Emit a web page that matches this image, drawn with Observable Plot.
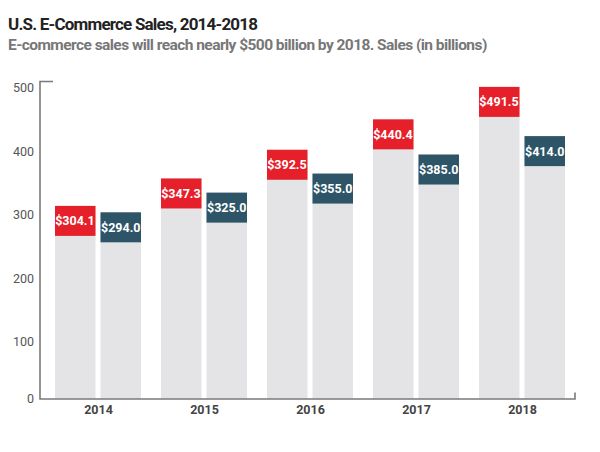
<!DOCTYPE html>
<html><head><meta charset="utf-8">
<script src="https://cdn.jsdelivr.net/npm/d3@7"></script>
<script src="https://cdn.jsdelivr.net/npm/@observablehq/plot@0.6"></script>
<style>
body{margin:0;background:#fff;font-family:Roboto,"Liberation Sans",sans-serif;}
#head{height:60px;position:relative;}
#t{position:absolute;left:8px;top:14px;font-weight:700;font-size:17px;line-height:20px;color:#222;letter-spacing:-0.8px;white-space:nowrap;}
#s{position:absolute;left:8px;top:35px;font-weight:700;font-size:15.5px;line-height:20px;color:#777;letter-spacing:-0.55px;white-space:nowrap;}
</style></head><body>
<div id="head"><div id="t">U.S. E-Commerce Sales, 2014-2018</div><div id="s">E-commerce sales will reach nearly $500 billion by 2018. Sales (in billions)</div></div>
<div id="chart"></div>
<script>
const years = ["2014", "2015", "2016", "2017", "2018"];
const seriesA = [304.1, 347.3, 392.5, 440.4, 491.5];
const seriesB = [294.0, 325.0, 355.0, 385.0, 414.0];
const yTicks = [0, 100, 200, 300, 400, 500];

const dataA = years.map((year, i) => ({year, v: seriesA[i]}));
const dataB = years.map((year, i) => ({year, v: seriesB[i]}));

const W = 600, H = 392, mt = 21.5, mb = 53, ml = 40, mr = 25;
const pxPerUnit = (H - mt - mb) / 500;
const boxU = 30 / pxPerUnit;
const inset = 45.5;
const red = "#e6202a", teal = "#2d5567", grey = "#e4e4e6";
const fmt = v => "$" + v.toFixed(1);

const axisFrame = (index, scales, values, dims) => {
  const l = dims.marginLeft, r = dims.width - dims.marginRight;
  const y0 = scales.y(0), y5 = scales.y(500);
  const p = d3.create("svg:path")
    .attr("d", `M${l + 13},${y5}H${l}V${y0}H${r}V${y0 - 6.5}`)
    .attr("fill", "none").attr("stroke", "#7a7a7a").attr("stroke-width", 1.6);
  return p.node();
};

const labelStyle = {letterSpacing: "-0.7px"};

const chart = Plot.plot({
  width: W, height: H,
  marginTop: mt, marginBottom: mb, marginLeft: ml, marginRight: mr,
  style: {fontFamily: "Roboto, sans-serif", background: "#fff"},
  x: {type: "band", domain: years, range: [53.3, 567.3], paddingInner: 0.19, paddingOuter: 0, axis: null},
  y: {domain: [0, 500], axis: null},
  marks: [
    Plot.barY(dataA, {x: "year", y: "v", fill: grey, insetRight: inset}),
    Plot.barY(dataB, {x: "year", y: "v", fill: grey, insetLeft: inset}),
    Plot.barY(dataA, {x: "year", y1: d => d.v - boxU, y2: "v", fill: red, insetRight: inset}),
    Plot.barY(dataB, {x: "year", y1: d => d.v - boxU, y2: "v", fill: teal, insetLeft: inset}),
    Plot.text(dataA, {x: "year", y: d => d.v - boxU / 2, text: d => fmt(d.v), dx: -23.6, fill: "white", fontWeight: "bold", fontSize: 12.5, style: labelStyle}),
    Plot.text(dataB, {x: "year", y: d => d.v - boxU / 2, text: d => fmt(d.v), dx: 22.2, fill: "white", fontWeight: "bold", fontSize: 12.5, style: labelStyle}),
    axisFrame,
    Plot.text(yTicks.filter(t => t > 0), {y: d => d, text: d => String(d), frameAnchor: "left", dx: -6.5, dy: 6, textAnchor: "end", fill: "#555", fontSize: 12.5}),
    Plot.text([0], {y: d => d, text: d => String(d), frameAnchor: "left", dx: -6.5, dy: -1, textAnchor: "end", fill: "#555", fontSize: 12.5}),
    Plot.text(years, {x: d => d, text: d => d, frameAnchor: "bottom", dy: 14, fill: "#444", fontWeight: "bold", fontSize: 12.5})
  ]
});
document.getElementById("chart").appendChild(chart);
</script>
</body></html>
